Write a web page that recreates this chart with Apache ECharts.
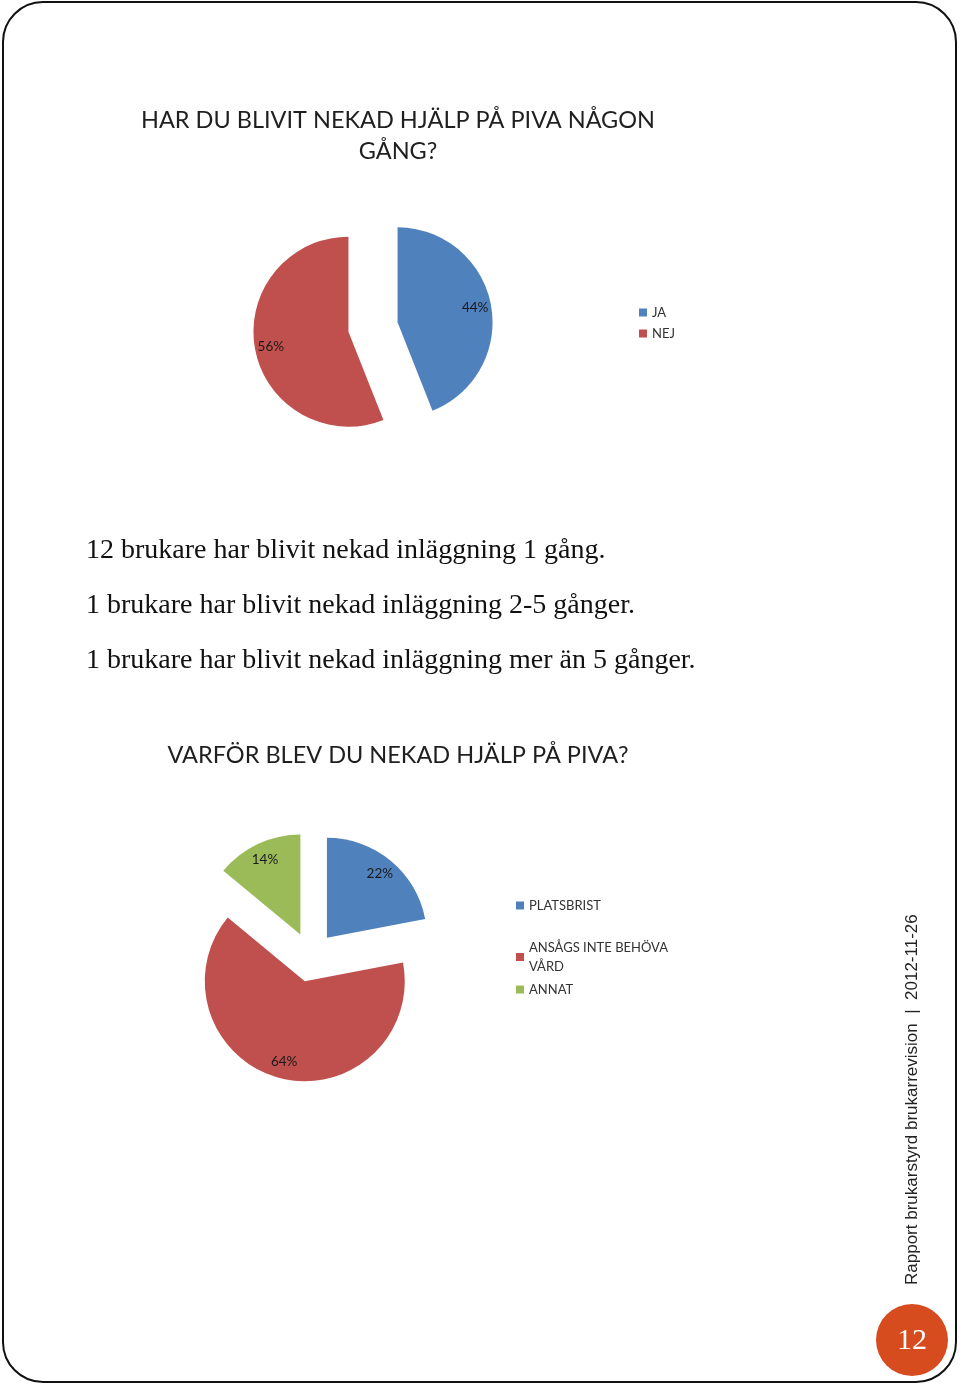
<!DOCTYPE html>
<html><head><meta charset="utf-8">
<script src="https://cdn.jsdelivr.net/npm/echarts@6/dist/echarts.min.js"></script>
<style>html,body{margin:0;padding:0;background:#fff}#c{width:960px;height:1386px}</style>
</head><body><div id="c"></div>
<script>
// ---- data ----
const q1Title = 'HAR DU BLIVIT NEKAD HJÄLP PÅ PIVA NÅGON\nGÅNG?';
const q1Names = ['JA', 'NEJ'];
const q1Values = [44, 56];
const q2Title = 'VARFÖR BLEV DU NEKAD HJÄLP PÅ PIVA?';
const q2Names = ['PLATSBRIST', 'ANSÅGS INTE BEHÖVA VÅRD', 'ANNAT'];
const q2Values = [22, 64, 14];
const bodyLines = [
  '12 brukare har blivit nekad inläggning 1 gång.',
  '1 brukare har blivit nekad inläggning 2-5 gånger.',
  '1 brukare har blivit nekad inläggning mer än 5 gånger.'
];
const footerText = 'Rapport brukarstyrd brukarrevision  |  2012-11-26';
const pageNumber = '12';

const colors = ['#4f81bd', '#c0504d', '#9bbb59'];
const labelFont = 'Lato, "Open Sans", sans-serif';

function mkData(names, values, transparent) {
  return names.map((n, i) => ({
    name: n, value: values[i], selected: true,
    itemStyle: { color: transparent ? 'rgba(0,0,0,0)' : colors[i] }
  }));
}
function pieSeries(names, values, center, r, off) {
  return [
    { type: 'pie', center: center, radius: [0, r], startAngle: 90, clockwise: true,
      selectedMode: 'multiple', selectedOffset: off, silent: true,
      label: { show: false }, labelLine: { show: false },
      emphasis: { disabled: true },
      data: mkData(names, values, false) },
    { type: 'pie', center: center, radius: [r * 0.6, r], startAngle: 90, clockwise: true,
      selectedMode: 'multiple', selectedOffset: off, silent: true,
      label: { show: true, position: 'inside', formatter: '{d}%', color: '#1a1a1a',
               fontSize: 13.5, fontFamily: labelFont },
      labelLine: { show: false }, emphasis: { disabled: true },
      data: mkData(names, values, true) }
  ];
}

const chart = echarts.init(document.getElementById('c'), null, { renderer: 'canvas' });
const legendText = { color: '#333', fontSize: 13, fontFamily: labelFont };
const serifFont = '28px "Liberation Serif", serif';
chart.setOption({
  animation: false,
  legend: [
    { data: q1Names, left: 634, top: 301, orient: 'vertical', itemWidth: 8, itemHeight: 8,
      itemGap: 8, icon: 'rect', textStyle: legendText, selectedMode: false },
    { data: [q2Names[0]], left: 511, top: 894, orient: 'vertical', itemWidth: 8, itemHeight: 8,
      icon: 'rect', textStyle: legendText, selectedMode: false },
    { data: q2Names.slice(1), left: 511, top: 933, orient: 'vertical', itemWidth: 8, itemHeight: 8,
      itemGap: 4, icon: 'rect', selectedMode: false,
      formatter: n => n === 'ANSÅGS INTE BEHÖVA VÅRD' ? 'ANSÅGS INTE BEHÖVA\nVÅRD' : n,
      textStyle: Object.assign({ lineHeight: 19 }, legendText) }
  ],
  series: [].concat(
    pieSeries(q1Names, q1Values, [373, 327], 95, 25),
    pieSeries(q2Names, q2Values, [311, 957], 100, 25)
  ),
  graphic: [
    { type: 'rect', shape: { x: 3, y: 2, width: 953, height: 1380, r: 40 }, silent: true,
      style: { fill: 'none', stroke: '#111', lineWidth: 2 } },
    { type: 'text', silent: true, x: 398, y: 105, style: { text: q1Title, align: 'center',
      fill: '#1f1f1f', font: '23.5px ' + labelFont, lineHeight: 31 } },
    { type: 'text', silent: true, x: 398, y: 743, style: { text: q2Title, align: 'center',
      fill: '#1f1f1f', font: '23.5px ' + labelFont } },
    { type: 'text', silent: true, x: 86, y: 537, style: { text: bodyLines[0], fill: '#111', font: serifFont } },
    { type: 'text', silent: true, x: 86, y: 592, style: { text: bodyLines[1], fill: '#111', font: serifFont } },
    { type: 'text', silent: true, x: 86, y: 647, style: { text: bodyLines[2], fill: '#111', font: serifFont } },
    { type: 'text', silent: true, x: 912, y: 1285, rotation: Math.PI / 2, style: { text: footerText,
      fill: '#222', font: '17px "Liberation Sans", Arial, sans-serif', align: 'left', verticalAlign: 'middle' } },
    { type: 'circle', silent: true, shape: { cx: 912, cy: 1340, r: 36 }, style: { fill: '#d64c1f' } },
    { type: 'text', silent: true, x: 912, y: 1341, style: { text: pageNumber, align: 'center',
      verticalAlign: 'middle', fill: '#fff', font: '30px "Liberation Serif", serif' } }
  ]
});
</script></body></html>
